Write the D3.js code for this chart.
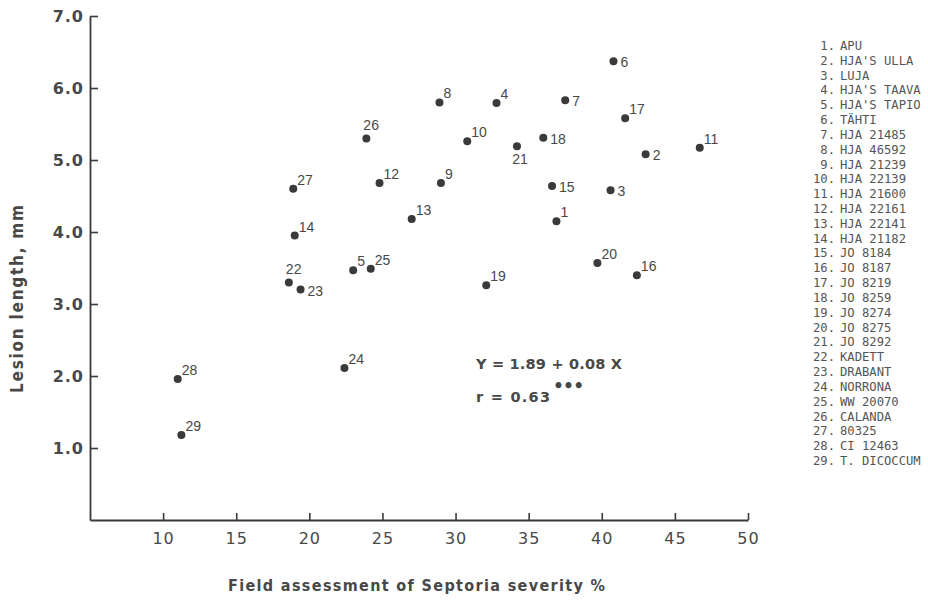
<!DOCTYPE html>
<html>
<head>
<meta charset="utf-8">
<script src="https://cdn.jsdelivr.net/npm/d3@7"></script>
<style>
  html, body { margin: 0; padding: 0; background: #ffffff; }
  svg { display: block; }
</style>
</head>
<body>
<svg id="chart" width="928" height="604"></svg>
<script>
// ---- data ----
const cultivarIds = [1,2,3,4,5,6,7,8,9,10,11,12,13,14,15,16,17,18,19,20,21,22,23,24,25,26,27,28,29];
const cultivarNames = ["APU","HJA'S ULLA","LUJA","HJA'S TAAVA","HJA'S TAPIO","TÄHTI","HJA 21485","HJA 46592","HJA 21239","HJA 22139","HJA 21600","HJA 22161","HJA 22141","HJA 21182","JO 8184","JO 8187","JO 8219","JO 8259","JO 8274","JO 8275","JO 8292","KADETT","DRABANT","NORRONA","WW 20070","CALANDA","80325","CI 12463","T. DICOCCUM"];
const septoriaSeverity = [36.9, 43.0, 40.6, 32.8, 23.0, 40.8, 37.5, 28.9, 29.0, 30.8, 46.7, 24.8, 27.0, 19.0, 36.6, 42.4, 41.6, 36.0, 32.1, 39.7, 34.2, 18.6, 19.4, 22.4, 24.2, 23.9, 18.9, 11.0, 11.25];
const lesionLength = [4.15, 5.08, 4.58, 5.79, 3.47, 6.37, 5.83, 5.80, 4.68, 5.26, 5.17, 4.68, 4.18, 3.95, 4.64, 3.40, 5.58, 5.31, 3.26, 3.57, 5.19, 3.30, 3.20, 2.11, 3.49, 5.30, 4.60, 1.96, 1.18];
const xTickValues = [10, 15, 20, 25, 30, 35, 40, 45, 50];
const yTickValues = [1, 2, 3, 4, 5, 6, 7];
const xAxisTitle = "Field assessment of Septoria severity %";
const yAxisTitle = "Lesion length, mm";
const equationText = "Y = 1.89 + 0.08 X";
const correlationText = "r = 0.63";
const significanceText = "•••";

// ---- label placement (style) ----
const labelSide = {1:'ne',2:'e',3:'e',4:'ne',5:'ne',6:'e',7:'e',8:'ne',9:'ne',10:'ne',11:'ne',12:'ne',13:'ne',14:'ne',15:'e',16:'ne',17:'ne',18:'e',19:'ne',20:'ne',21:'s',22:'n',23:'e',24:'ne',25:'ne',26:'n',27:'ne',28:'ne',29:'ne'};
const sideOffsets = {
  ne: {dx: 4, dy: -4, anchor: 'start'},
  e:  {dx: 7, dy: 6, anchor: 'start'},
  s:  {dx: 3, dy: 18, anchor: 'middle'},
  n:  {dx: -3, dy: -8, anchor: 'start'}
};

const points = cultivarIds.map((id, i) => ({id, name: cultivarNames[i], x: septoriaSeverity[i], y: lesionLength[i]}));

const svg = d3.select("#chart");
const ink = "#3a3a3a";
const textInk = "#484848";

const x = d3.scaleLinear().domain([5, 50]).range([90, 748]);
const y = d3.scaleLinear().domain([0, 7]).range([520, 16]);

// ---- axes ----
const xAxis = d3.axisBottom(x).tickValues(xTickValues).tickSizeInner(-7).tickSizeOuter(0).tickPadding(13).tickFormat(d3.format("d"));
const yAxis = d3.axisLeft(y).tickValues(yTickValues).tickSizeInner(-8).tickSizeOuter(0).tickPadding(6).tickFormat(d3.format(".1f"));

const gx = svg.append("g").attr("transform", `translate(0,${y(0)})`).call(xAxis);
const gy = svg.append("g").attr("transform", `translate(${x(5)},0)`).call(yAxis);

[gx, gy].forEach(g => {
  g.select(".domain").attr("stroke", ink).attr("stroke-width", 1.8);
  g.selectAll(".tick line").attr("stroke", ink).attr("stroke-width", 1.6);
});
gx.selectAll(".tick text")
  .attr("fill", textInk)
  .style("font-family", "'DejaVu Sans', sans-serif")
  .style("font-size", "16px")
  .style("letter-spacing", "1px");
gy.selectAll(".tick text")
  .attr("fill", textInk)
  .style("font-family", "'DejaVu Sans', sans-serif")
  .style("font-weight", "bold")
  .style("font-size", "16px")
  .style("letter-spacing", "1px");

// ---- axis titles ----
svg.append("text")
  .attr("x", 228).attr("y", 591)
  .attr("textLength", 377).attr("lengthAdjust", "spacing")
  .attr("fill", textInk)
  .style("font-family", "'DejaVu Sans Condensed', 'Liberation Sans Narrow', sans-serif")
  .style("font-weight", "bold")
  .style("font-size", "16px")
  .text(xAxisTitle);

svg.append("text")
  .attr("transform", "translate(23,393) rotate(-90)")
  .attr("x", 0).attr("y", 0)
  .attr("textLength", 188).attr("lengthAdjust", "spacing")
  .attr("fill", textInk)
  .style("font-family", "'DejaVu Sans Condensed', 'Liberation Sans Narrow', sans-serif")
  .style("font-weight", "bold")
  .style("font-size", "17px")
  .text(yAxisTitle);

// ---- points ----
svg.append("g").selectAll("circle")
  .data(points).join("circle")
  .attr("cx", d => x(d.x)).attr("cy", d => y(d.y))
  .attr("r", 4).attr("fill", ink);

svg.append("g").selectAll("text")
  .data(points).join("text")
  .attr("x", d => x(d.x) + sideOffsets[labelSide[d.id]].dx)
  .attr("y", d => y(d.y) + sideOffsets[labelSide[d.id]].dy)
  .attr("text-anchor", d => sideOffsets[labelSide[d.id]].anchor)
  .attr("fill", textInk)
  .style("font-family", "'Liberation Sans', Arial, sans-serif")
  .style("font-size", "14px")
  .text(d => d.id);

// ---- regression annotation ----
svg.append("text")
  .attr("x", 476).attr("y", 369)
  .attr("textLength", 146).attr("lengthAdjust", "spacing")
  .attr("fill", textInk)
  .style("font-family", "'DejaVu Sans', sans-serif")
  .style("font-weight", "bold")
  .style("font-size", "14.5px")
  .text(equationText);

svg.append("text")
  .attr("x", 476).attr("y", 402)
  .attr("textLength", 74).attr("lengthAdjust", "spacing")
  .attr("fill", textInk)
  .style("font-family", "'DejaVu Sans', sans-serif")
  .style("font-weight", "bold")
  .style("font-size", "14.5px")
  .text(correlationText);

svg.append("text")
  .attr("x", 553).attr("y", 392)
  .attr("textLength", 31).attr("lengthAdjust", "spacing")
  .attr("fill", textInk)
  .style("font-family", "'DejaVu Sans', sans-serif")
  .style("font-weight", "bold")
  .style("font-size", "17px")
  .text(significanceText);

// ---- legend ----
const legendTop = 50, legendStep = 14.82;
const legend = svg.append("g")
  .attr("fill", "#555")
  .style("font-family", "'DejaVu Sans Mono', 'Liberation Mono', monospace")
  .style("font-size", "12.2px");

legend.selectAll("text.num")
  .data(points).join("text")
  .attr("class", "num")
  .attr("x", 835)
  .attr("y", (d, i) => legendTop + i * legendStep)
  .attr("text-anchor", "end")
  .text(d => d.id + ".");

legend.selectAll("text.name")
  .data(points).join("text")
  .attr("class", "name")
  .attr("x", 840)
  .attr("y", (d, i) => legendTop + i * legendStep)
  .text(d => d.name);
</script>
</body>
</html>
